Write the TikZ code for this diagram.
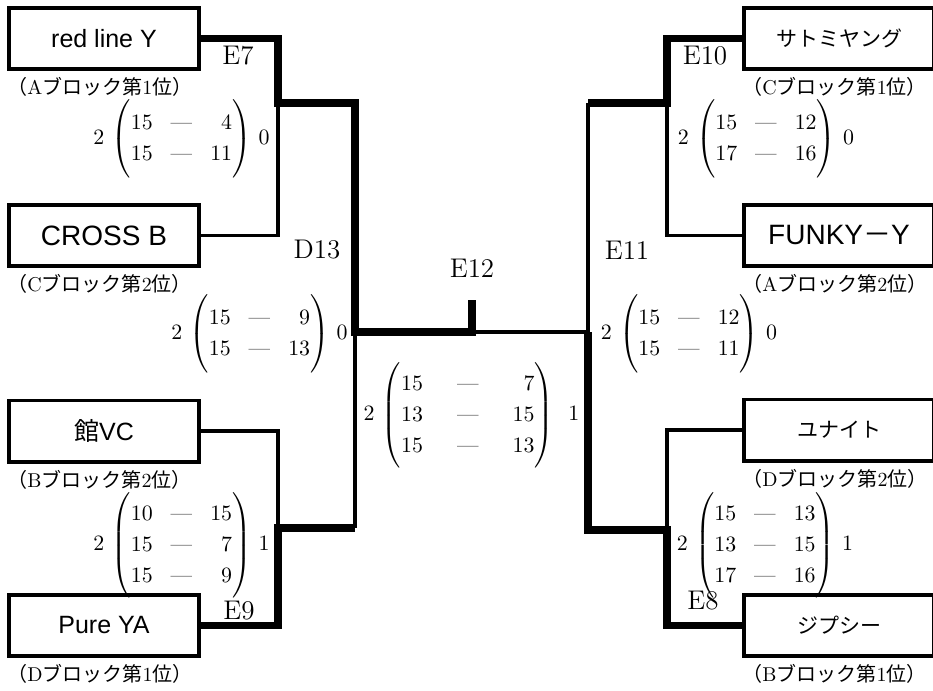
\documentclass[tikz,border=0pt]{standalone}
\usepackage{amsmath}
\usepackage{mathtools}
\usepackage{fontspec}
\usepackage{tikz}
\usetikzlibrary{positioning}
\newfontfamily\jpfont{Noto Sans CJK JP}
\newfontfamily\teamfont{Liberation Sans}
\newcommand{\blockrank}[2]{{\jpfont （}#1{\jpfont ブロック第}#2{\jpfont 位）}}
\newcommand{\scdash}{\text{\textemdash}}
\renewcommand{\arraystretch}{1.2}
\setlength{\arraycolsep}{4.5pt}
\setlength{\delimitershortfall}{-7pt}
\tikzset{team/.style = {draw, line width = 1.8pt, minimum width = 95.2pt, minimum height = 30.7pt,
                        inner sep = 0, font = \teamfont\fontsize{12.5}{14}\selectfont}}
\tikzset{bigteam/.style = {team, font = \teamfont\fontsize{14}{16}\selectfont}}
\tikzset{jpteam/.style = {team, font = \jpfont\fontsize{10.5}{12}\selectfont}}
\tikzset{rank/.style = {inner sep = 0, font = \fontsize{10}{12}\selectfont}}
\tikzset{score/.style = {inner sep = 0, font = \fontsize{11}{13}\selectfont}}
\tikzset{longscore/.style = {score, font = \fontsize{11}{13}\selectfont\setlength{\delimitershortfall}{0pt}}}
\tikzset{game/.style = {inner sep = 0, font = \fontsize{13.5}{15}\selectfont}}
\tikzset{win/.style = {line width = 3.8pt}}
\tikzset{lose/.style = {line width = 1.6pt}}

\begin{document}
\begin{tikzpicture}[x = 0.5pt, y = -0.5pt]
    \useasboundingbox (0, 0) rectangle (933, 691);
    \clip (0, 0) rectangle (933, 691);

    \node [team] (redline) at (104, 38.5) {red line Y};
    \node [bigteam] (crossb) at (104, 235.5) {CROSS B};
    \node [team] (yakata) at (104, 431) {{\jpfont 館}VC};
    \node [team] (pureya) at (104, 625.5) {Pure YA};
    \node [jpteam] (satomi) at (839, 38.5) {サトミヤング};
    \node [bigteam] (funky) at (839, 235.5) {FUNKY{\jpfont －}Y};
    \node [jpteam] (unite) at (839, 430) {ユナイト};
    \node [jpteam] (gypsy) at (839, 625.5) {ジプシー};

    \node [rank, below = 3pt of redline.south west, anchor = north west] (rkA1) {\blockrank{A}{1}};
    \node [rank, below = 3pt of crossb.south west, anchor = north west] (rkC2) {\blockrank{C}{2}};
    \node [rank, below = 3pt of yakata.south west, anchor = north west] (rkB2) {\blockrank{B}{2}};
    \node [rank, below = 3pt of pureya.south west, anchor = north west] (rkD1) {\blockrank{D}{1}};
    \node [rank, below = 3pt of satomi.south west, anchor = north west] (rkC1) {\blockrank{C}{1}};
    \node [rank, below = 3pt of funky.south west, anchor = north west] (rkA2) {\blockrank{A}{2}};
    \node [rank, below = 3pt of unite.south west, anchor = north west] (rkD2) {\blockrank{D}{2}};
    \node [rank, below = 3pt of gypsy.south west, anchor = north west] (rkB1) {\blockrank{B}{1}};

    \coordinate (j7) at (278, 103);
    \coordinate (j9) at (278, 528);
    \coordinate (j13) at (355, 332);
    \coordinate (j12) at (472, 332);
    \coordinate (top12) at (472, 300);
    \coordinate (j11) at (588, 332);
    \coordinate (j10) at (667, 103);
    \coordinate (j8) at (667, 530);

    \draw [lose] (crossb.east) -| (j7);
    \draw [lose] (yakata.east) -| (j9);
    \draw [lose] (j9 -| j13) -- (j13);
    \draw [win] (redline.east) -| (j7) -| (j13) -- (j12) -- (top12);
    \draw [win] (pureya.east) -| (j9) -- (j9 -| j13);
    \draw [lose] (j12) -| (j10 -| j11);
    \draw [lose] (funky.west) -| (j10);
    \draw [lose] (unite.west) -| (j8);
    \draw [win] (satomi.west) -| (j10) -- (j10 -| j11);
    \draw [win] (gypsy.west) -| (j8) -| (j11);

    \node [game] (e7) at (238, 56) {E7};
    \node [game] (d13) at (317, 250) {D13};
    \node [game] (e9) at (239, 611) {E9};
    \node [game] (e12) at (472, 268) {E12};
    \node [game] (e10) at (705, 56) {E10};
    \node [game] (e11) at (627, 250) {E11};
    \node [game] (e8) at (703, 601) {E8};

    \node [score] (s7) at (181.5, 139)
        {$2\,\begin{pmatrix*}[r]15&\scdash&4\\15&\scdash&11\end{pmatrix*}\,0$};
    \node [score] (s13) at (259.5, 334)
        {$2\,\begin{pmatrix*}[r]15&\scdash&9\\15&\scdash&13\end{pmatrix*}\,0$};
    \node [longscore] (s9) at (181.5, 545.5)
        {$2\,\begin{pmatrix*}[r]10&\scdash&15\\15&\scdash&7\\15&\scdash&9\end{pmatrix*}\,1$};
    \node [longscore] (s12) at (471.5, 415.5)
        {\setlength{\arraycolsep}{8.5pt}$2\,\begin{pmatrix*}[r]15&\scdash&7\\13&\scdash&15\\15&\scdash&13\end{pmatrix*}\enspace1$};
    \node [score] (s10) at (766, 139)
        {$2\,\begin{pmatrix*}[r]15&\scdash&12\\17&\scdash&16\end{pmatrix*}\,0$};
    \node [score] (s11) at (689, 334)
        {$2\,\begin{pmatrix*}[r]15&\scdash&12\\15&\scdash&11\end{pmatrix*}\,0$};
    \node [longscore] (s8) at (765, 545)
        {$2\,\begin{pmatrix*}[r]15&\scdash&13\\13&\scdash&15\\17&\scdash&16\end{pmatrix*}\,1$};
\end{tikzpicture}
\end{document}
